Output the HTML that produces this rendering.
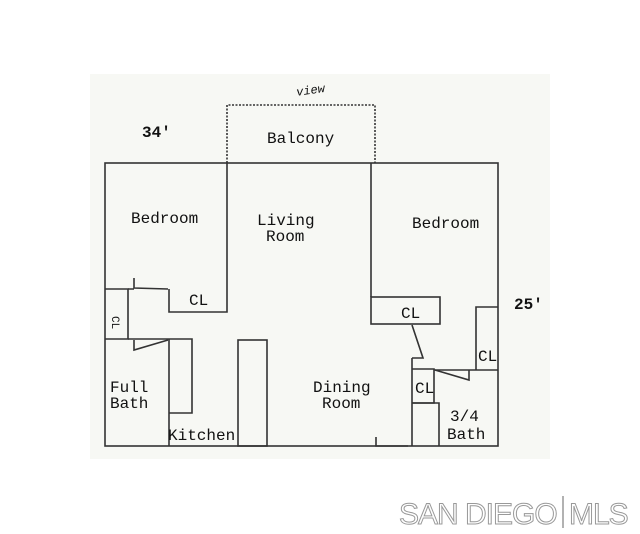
<!DOCTYPE html>
<html><head><style>
body{margin:0;background:#fff;}
svg{display:block}
text{font-family:"Liberation Mono",monospace;font-size:16px;fill:#111;}
</style></head><body>
<svg width="640" height="534" xmlns="http://www.w3.org/2000/svg">
<rect x="90" y="74" width="460" height="385" fill="#f7f8f4"/>
<g stroke="#333" stroke-width="1.6" fill="none">
<rect x="105" y="163" width="393" height="283"/>
<path d="M227 163 V105 H375 V163" stroke-dasharray="2,1.5"/>
<path d="M227 163 V312 H169 V289"/>
<path d="M105 289 H128 V339 H105"/>
<path d="M128 289 H134 M128 339 H169"/>
<path d="M134 278 L134 288 L168 289"/>
<path d="M134 340 L134 350 L168 340"/>
<path d="M169 339 V446"/>
<path d="M169 339 H192 V413 H169"/>
<rect x="238" y="340" width="29" height="106"/>
<path d="M371 163 V297"/>
<rect x="371" y="297" width="69" height="27"/>
<path d="M412 325 L423 358 L412 358"/>
<path d="M412 358 V446"/>
<path d="M412 369 H434 V403 H412"/>
<path d="M412 403 H439 V446"/>
<path d="M476 370 V307 H498"/>
<path d="M434 370 H498"/>
<path d="M435 370 L469 380 L469 370"/>
<path d="M376 437 L376 446 L408 446"/>
</g>
<text x="296" y="94" style="font-size:12px;font-style:italic" transform="rotate(-8 310 90)">view</text>
<text x="142" y="137" style="font-weight:bold">34′</text>
<text x="267" y="143">Balcony</text>
<text x="131" y="223">Bedroom</text>
<text x="257" y="225">Living</text>
<text x="266" y="241">Room</text>
<text x="412" y="228">Bedroom</text>
<text x="189" y="305">CL</text>
<text x="401" y="318">CL</text>
<text x="514" y="309" style="font-weight:bold">25′</text>
<text x="478" y="361">CL</text>
<text x="415" y="393">CL</text>
<text x="110" y="392">Full</text>
<text x="110" y="408">Bath</text>
<text x="313" y="392">Dining</text>
<text x="322" y="408">Room</text>
<text x="450" y="421">3/4</text>
<text x="447" y="439">Bath</text>
<text x="168" y="440">Kitchen</text>
<text x="116" y="320" style="font-size:11px" transform="rotate(90 116 316)">CL</text>
<text x="399" y="524" style="font-family:'Liberation Sans',sans-serif;font-size:30px;fill:#fff;stroke:#999;stroke-width:1;letter-spacing:-1px">SAN DIEGO</text>
<line x1="563" y1="496" x2="563" y2="528" stroke="#999" stroke-width="1.5"/>
<text x="569" y="524" style="font-family:'Liberation Sans',sans-serif;font-size:30px;fill:#fff;stroke:#999;stroke-width:1;letter-spacing:-1px">MLS</text>
</svg>
</body></html>
